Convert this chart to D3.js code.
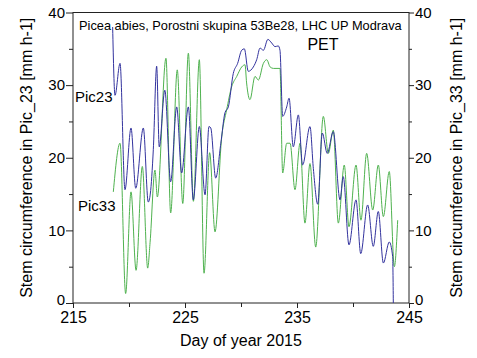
<!DOCTYPE html>
<html>
<head>
<meta charset="utf-8">
<script src="https://cdn.jsdelivr.net/npm/d3@7"></script>
<style>
  html, body { margin: 0; padding: 0; background: #fff; }
  svg { display: block; font-family: "Liberation Sans", Arial, sans-serif; }
</style>
</head>
<body>
<svg id="chart" width="477" height="358"></svg>
<script>
// ---- data ----
const pic23Day = [218.54, 218.75, 219.2, 219.64, 220.18, 220.6, 221.28, 221.72, 221.9, 222.17, 222.47, 222.7, 223.2, 223.72, 224.26, 224.7, 225.3, 225.74, 226.28, 226.79, 227.14, 227.3, 227.74, 228.2, 228.57, 228.87, 229.31, 229.7, 230.06, 230.3, 230.65, 231.1, 231.4, 231.7, 232.0, 232.4, 232.74, 233.04, 233.33, 233.48, 233.72, 234.08, 234.29, 234.67, 235.12, 235.5, 236.16, 236.46, 236.85, 237.26, 237.7, 238.24, 238.84, 239.13, 239.64, 240.27, 240.69, 241.31, 241.81, 242.26, 242.71, 243.24, 243.54, 243.6];
const pic23Val = [38.0, 28.6, 33.0, 15.6, 24.1, 15.8, 24.1, 13.9, 15.0, 21.1, 32.6, 21.5, 29.3, 16.7, 27.0, 17.9, 27.0, 14.2, 24.3, 14.9, 24.3, 24.1, 17.2, 22.0, 26.2, 27.0, 31.6, 33.0, 34.8, 35.0, 31.9, 32.5, 33.5, 35.1, 34.8, 36.3, 35.8, 35.3, 35.4, 34.8, 25.7, 27.0, 28.2, 21.5, 25.9, 19.0, 24.3, 18.5, 13.6, 23.4, 20.6, 23.6, 14.2, 17.4, 8.0, 14.2, 6.8, 13.5, 7.8, 12.6, 5.5, 8.4, 6.4, 0];

const pic33Day = [218.6, 219.2, 219.7, 220.18, 220.63, 221.19, 221.67, 221.88, 222.32, 222.53, 223.3, 223.72, 224.31, 224.8, 225.3, 225.75, 226.28, 226.7, 227.2, 227.68, 228.28, 228.72, 229.17, 229.62, 230.06, 230.36, 230.5, 230.8, 231.25, 231.55, 232.0, 232.3, 232.6, 232.9, 233.48, 233.72, 234.08, 234.38, 234.82, 235.27, 235.71, 236.16, 236.67, 237.35, 237.8, 238.24, 238.69, 239.22, 239.64, 240.27, 240.71, 241.22, 241.76, 242.26, 242.71, 243.24, 243.69, 243.99];
const pic33Val = [15.3, 22.0, 1.3, 15.3, 4.5, 18.8, 4.8, 8.3, 18.3, 14.6, 33.7, 12.4, 32.1, 13.7, 34.4, 14.0, 33.5, 4.1, 20.7, 9.8, 22.9, 26.6, 29.8, 31.2, 32.5, 32.8, 30.3, 28.0, 31.2, 30.7, 33.0, 33.5, 32.5, 32.3, 32.3, 17.9, 22.0, 22.0, 15.6, 22.0, 11.0, 19.2, 7.7, 25.7, 20.6, 23.8, 11.0, 19.0, 10.5, 19.0, 11.4, 20.6, 12.8, 19.0, 11.9, 18.1, 5.0, 11.4];

const xMajorTicks = [215, 225, 235, 245];
const xMinorTicks = [220, 230, 240];
const yMajorTicks = [0, 10, 20, 30, 40];
const yMinorTicks = [5, 15, 25, 35];

const titleText = "Picea abies, Porostni skupina 53Be28, LHC UP Modrava";
const panelLabel = "PET";
const seriesNames = ["Pic23", "Pic33"];
const xTitle = "Day of year 2015";
const yLeftTitle = "Stem circumference in Pic_23 [mm h-1]";
const yRightTitle = "Stem circumference in Pic_33 [mm h-1]";

// ---- chart ----
const svg = d3.select("#chart");
const L = 73, R = 409, T = 12.5, B = 303;
const x = d3.scaleLinear().domain([215, 245]).range([L, R]);
const y = d3.scaleLinear().domain([0, 40]).range([B, T]);

const axisColor = "#222";

function styleAxis(size) {
  return g => {
    g.select(".domain").remove();
    g.selectAll(".tick line").attr("stroke", axisColor);
    g.selectAll(".tick text").attr("fill", "#000").style("font-size", size + "px")
      .style("font-family", "Liberation Sans, Arial, sans-serif");
  };
}
// keep the corner "0" label clear of the first/last x label
function liftZero(g) {
  g.selectAll(".tick text").filter(d => d === 0).attr("dy", "0.12em");
}

// left axis
svg.append("g").attr("transform", `translate(${L},0)`)
  .call(d3.axisLeft(y).tickValues(yMajorTicks).tickSize(7).tickPadding(1).tickFormat(d3.format("d")))
  .call(styleAxis(15)).call(liftZero);
svg.append("g").attr("transform", `translate(${L},0)`)
  .call(d3.axisLeft(y).tickValues(yMinorTicks).tickSize(4).tickFormat(""))
  .call(styleAxis(15));
// right axis
svg.append("g").attr("transform", `translate(${R},0)`)
  .call(d3.axisRight(y).tickValues(yMajorTicks).tickSize(5).tickPadding(1).tickFormat(d3.format("d")))
  .call(styleAxis(15)).call(liftZero);
svg.append("g").attr("transform", `translate(${R},0)`)
  .call(d3.axisRight(y).tickValues(yMinorTicks).tickSize(3).tickFormat(""))
  .call(styleAxis(15));
// bottom axis
svg.append("g").attr("transform", `translate(0,${B})`)
  .call(d3.axisBottom(x).tickValues(xMajorTicks).tickSize(5).tickPadding(4).tickFormat(d3.format("d")))
  .call(styleAxis(16));
svg.append("g").attr("transform", `translate(0,${B})`)
  .call(d3.axisBottom(x).tickValues(xMinorTicks).tickSize(4).tickFormat(""))
  .call(styleAxis(16));

// frame
svg.append("rect").attr("x", L).attr("y", T).attr("width", R - L).attr("height", B - T)
  .attr("fill", "none").attr("stroke", axisColor).attr("stroke-width", 1);

// lines
const line = d3.line().curve(d3.curveMonotoneX).x(d => x(d[0])).y(d => y(d[1]));
const s33 = pic33Day.map((d, i) => [d, pic33Val[i]]);
const s23 = pic23Day.map((d, i) => [d, pic23Val[i]]);
svg.append("path").datum(s33).attr("d", line).attr("fill", "none")
  .attr("stroke", "#4fb24f").attr("stroke-width", 1);
svg.append("path").datum(s23).attr("d", line).attr("fill", "none")
  .attr("stroke", "#33339e").attr("stroke-width", 1);

// texts
svg.append("text").attr("x", 79).attr("y", 30).style("font-size", "12.8px").attr("fill", "#000")
  .text(titleText);
svg.append("text").attr("x", 323).attr("y", 50).attr("text-anchor", "middle").style("font-size", "16px")
  .attr("fill", "#000").text(panelLabel);
svg.append("text").attr("x", 75).attr("y", 102).style("font-size", "15px").attr("fill", "#000").text(seriesNames[0]);
svg.append("text").attr("x", 78).attr("y", 211).style("font-size", "15px").attr("fill", "#000").text(seriesNames[1]);

svg.append("text").attr("x", (L + R) / 2).attr("y", 346).attr("text-anchor", "middle")
  .style("font-size", "16px").attr("fill", "#000").text(xTitle);
svg.append("text").attr("transform", `translate(32,${(T + B) / 2}) rotate(-90)`).attr("text-anchor", "middle")
  .style("font-size", "16px").attr("fill", "#000").text(yLeftTitle);
svg.append("text").attr("transform", `translate(462,${(T + B) / 2}) rotate(-90)`).attr("text-anchor", "middle")
  .style("font-size", "16px").attr("fill", "#000").text(yRightTitle);
</script>
</body>
</html>
